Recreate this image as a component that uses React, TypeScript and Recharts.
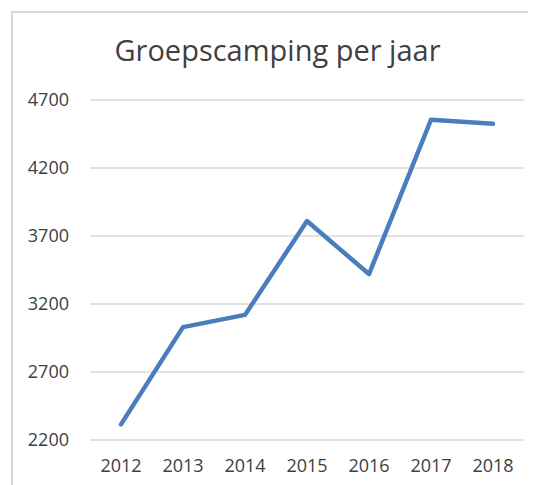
import { LineChart, Line, XAxis, YAxis, CartesianGrid } from 'recharts'

const years = ['2012', '2013', '2014', '2015', '2016', '2017', '2018']
const campings = [2315, 3030, 3120, 3810, 3420, 4555, 4525]
const yTicks = [2200, 2700, 3200, 3700, 4200, 4700]

const data = years.map((year, i) => ({ year, value: campings[i] }))

const font = '"Open Sans", sans-serif'

export default function App() {
  return (
    <div style={{ position: 'relative', width: 528, height: 477, overflow: 'hidden', fontFamily: font }}>
      <div
        style={{
          position: 'absolute',
          left: 3,
          top: 3,
          width: 600,
          height: 600,
          borderLeft: '2px solid #d9d9d9',
          borderTop: '2px solid #d9d9d9',
        }}
      />
      <div
        style={{
          position: 'absolute',
          left: 0,
          width: 539,
          top: 22,
          textAlign: 'center',
          fontSize: 29,
          color: '#404040',
          lineHeight: '40px',
        }}
      >
        Groepscamping per jaar
      </div>
      <div style={{ position: 'absolute', left: 0, top: 0 }}>
        <LineChart width={528} height={477} data={data} margin={{ top: 92, right: 12, left: 0, bottom: 0 }}>
          <CartesianGrid vertical={false} stroke="#d9d9d9" strokeWidth={1.5} />
          <XAxis
            dataKey="year"
            axisLine={false}
            tickLine={false}
            tickSize={0}
            tickMargin={19}
            height={45}
            padding={{ left: 31, right: 31 }}
            tick={{ fontSize: 18, fill: '#404040', fontFamily: font }}
          />
          <YAxis
            domain={[2200, 4700]}
            ticks={yTicks}
            axisLine={false}
            tickLine={false}
            tickSize={0}
            tickMargin={21}
            width={82}
            tick={{ fontSize: 18, fill: '#404040', fontFamily: font }}
          />
          <Line
            dataKey="value"
            stroke="#4a7ebb"
            strokeWidth={4.5}
            strokeLinecap="round"
            strokeLinejoin="round"
            dot={false}
            isAnimationActive={false}
          />
        </LineChart>
      </div>
    </div>
  )
}
